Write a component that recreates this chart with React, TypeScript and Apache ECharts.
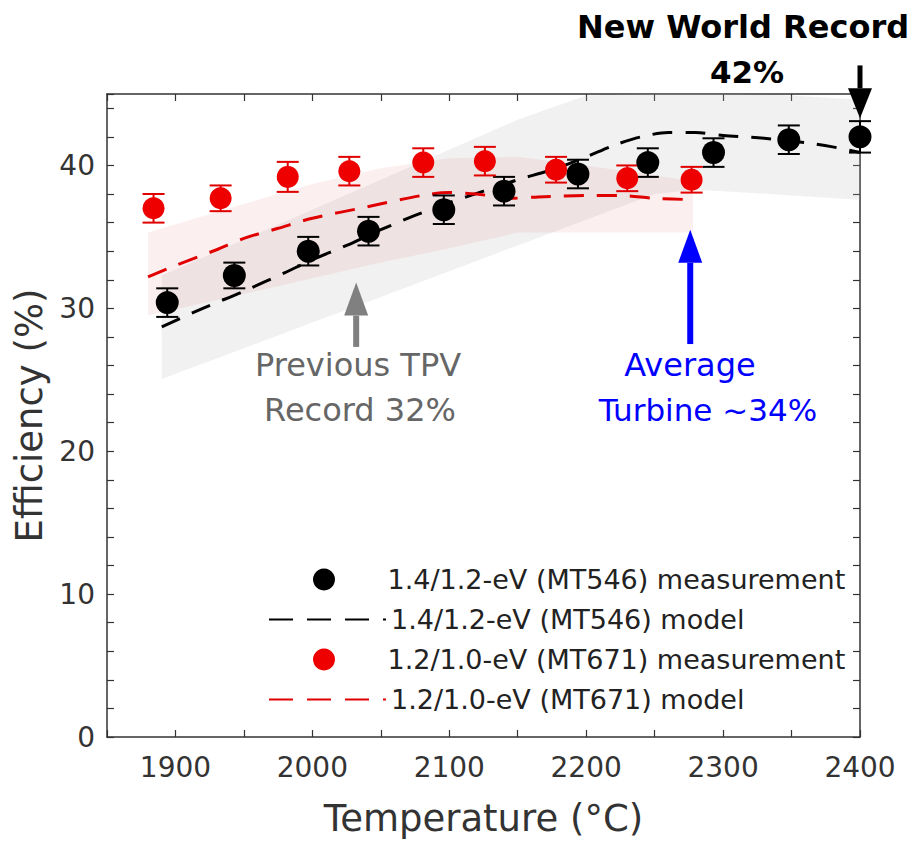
import React, { useEffect, useRef } from "react";
import * as echarts from "echarts";

const FONT = "'DejaVu Sans', 'Noto Sans', sans-serif";

// ---- measurements ----
const blackTemp = [1894, 1943, 1997, 2041, 2096, 2140, 2194, 2245, 2293, 2348, 2400];
const blackEff = [30.4, 32.3, 34.0, 35.4, 36.9, 38.2, 39.4, 40.2, 40.9, 41.8, 42.0];
const blackErr = [1.0, 0.9, 1.0, 1.0, 1.0, 1.0, 1.0, 1.0, 1.0, 1.0, 1.1];

const redTemp = [1884, 1933, 1982, 2027, 2081, 2126, 2178, 2230, 2277];
const redEff = [37.0, 37.7, 39.2, 39.6, 40.2, 40.3, 39.7, 39.1, 39.0];
const redErr = [1.0, 0.9, 1.05, 1.0, 1.0, 1.0, 0.9, 0.9, 0.9];

// ---- models ----
const blackModelT = [1890, 1920, 1950, 1980, 2000, 2025, 2050, 2075, 2100, 2125, 2150, 2175, 2200, 2220, 2240, 2260, 2280, 2300, 2330, 2360, 2380, 2400];
const blackModelE = [28.7, 30.0, 31.2, 32.5, 33.4, 34.4, 35.5, 36.5, 37.4, 38.2, 39.0, 39.7, 40.6, 41.4, 42.0, 42.3, 42.3, 42.1, 41.9, 41.6, 41.3, 40.9];

const redModelT = [1880, 1900, 1930, 1950, 1975, 2000, 2040, 2080, 2100, 2120, 2145, 2165, 2200, 2225, 2250, 2280];
const redModelE = [32.2, 33.0, 34.1, 34.9, 35.6, 36.3, 37.1, 37.9, 38.1, 38.0, 37.7, 37.8, 37.9, 37.9, 37.7, 37.6];

// ---- model uncertainty bands ----
const grayBandT = [1890, 1950, 2000, 2050, 2100, 2150, 2200, 2250, 2280, 2300, 2350, 2400];
const grayUpper = [32.3, 34.8, 36.9, 39.0, 41.1, 43.2, 44.9, 45, 45, 45, 44.9, 44.6];
const grayLower = [25.05, 27.2, 29.0, 30.8, 32.6, 34.4, 36.2, 38.0, 38.3, 38.2, 37.9, 37.6];

const redBandT = [1880, 1950, 2000, 2050, 2100, 2150, 2200, 2250, 2278];
const redUpper = [35.3, 37.3, 38.7, 39.8, 40.5, 40.6, 40.0, 39.3, 38.9];
const redLower = [29.5, 31.0, 32.1, 33.2, 34.2, 35.3, 35.3, 35.3, 35.3];

// ---- reference lines ----
const refLineEnd = [1850, 2385];
const turbineLevel = 35.5;
const prevTpvLevel = 31.9;

// ---- arrows ----
const arrowX = [2032, 2276, 2400];
const arrowFrom = [27.3, 27.5, 47.0];
const arrowTo = [31.8, 35.5, 43.3];
const arrowColors = ["#808080", "#0000ff", "#000000"];

const names = [
  "1.4/1.2-eV (MT546) measurement",
  "1.4/1.2-eV (MT546) model",
  "1.2/1.0-eV (MT671) measurement",
  "1.2/1.0-eV (MT671) model",
];

function bandSeries(name: string, T: number[], U: number[], L: number[], fill: string) {
  return {
    type: "custom",
    name,
    silent: true,
    z: 1,
    clip: true,
    data: T.map((t, i) => [t, L[i], U[i]]),
    encode: { x: 0, y: [1, 2] },
    renderItem: (params: any, api: any) => {
      if (params.dataIndex !== 0) return { type: "group", children: [] };
      const pts: number[][] = [];
      for (let i = 0; i < T.length; i++) pts.push(api.coord([T[i], U[i]]));
      for (let i = T.length - 1; i >= 0; i--) pts.push(api.coord([T[i], L[i]]));
      return { type: "polygon", shape: { points: pts }, style: { fill, stroke: "none" } };
    },
  };
}

function errSeries(name: string, T: number[], E: number[], R: number[], color: string) {
  return {
    type: "custom",
    name,
    silent: true,
    z: 4,
    data: T.map((t, i) => [t, E[i] - R[i], E[i] + R[i]]),
    encode: { x: 0, y: [1, 2] },
    renderItem: (params: any, api: any) => {
      const x = api.value(0);
      const p1 = api.coord([x, api.value(1)]);
      const p2 = api.coord([x, api.value(2)]);
      const hw = 11;
      const style = { stroke: color, lineWidth: 2 };
      return {
        type: "group",
        children: [
          { type: "line", shape: { x1: p1[0], y1: p1[1], x2: p2[0], y2: p2[1] }, style },
          { type: "line", shape: { x1: p1[0] - hw, y1: p1[1], x2: p1[0] + hw, y2: p1[1] }, style },
          { type: "line", shape: { x1: p2[0] - hw, y1: p2[1], x2: p2[0] + hw, y2: p2[1] }, style },
        ],
      };
    },
  };
}

export default function App() {
  const ref = useRef<HTMLDivElement>(null);
  useEffect(() => {
    const chart = echarts.init(ref.current!, null, { renderer: "svg" });
    const axisCol = "#333";
    const baseX = {
      type: "value",
      min: 1850,
      max: 2400,
      interval: 50,
      axisLine: { show: true, onZero: false, lineStyle: { color: axisCol, width: 1.5 } },
      axisTick: { show: true, inside: true, length: 7, lineStyle: { color: axisCol, width: 1.2 } },
      splitLine: { show: false },
    };
    const baseY = {
      type: "value",
      min: 0,
      max: 45,
      interval: 2,
      axisLine: { show: true, onZero: false, lineStyle: { color: axisCol, width: 1.5 } },
      axisTick: { show: true, inside: true, length: 7, lineStyle: { color: axisCol, width: 1.2 } },
      splitLine: { show: false },
    };
    const isModel = (i: number) => i % 2 === 1;
    const option: any = {
      animation: false,
      backgroundColor: "#fff",
      grid: { left: 107, right: 56, top: 94, bottom: 103 },
      xAxis: [
        {
          ...baseX,
          position: "bottom",
          axisLabel: {
            formatter: (v: number) => (v % 100 === 0 ? String(v) : ""),
            fontSize: 28,
            color: "#333",
            margin: 16,
            fontFamily: FONT,
          },
          name: "Temperature (°C)",
          nameLocation: "middle",
          nameGap: 63,
          nameTextStyle: { fontSize: 37, color: "#333", fontFamily: FONT },
        },
        { ...baseX, position: "top", axisLabel: { show: false } },
      ],
      yAxis: [
        {
          ...baseY,
          position: "left",
          axisLabel: {
            formatter: (v: number) => (v % 10 === 0 ? String(v) : ""),
            fontSize: 28,
            color: "#333",
            margin: 12,
            fontFamily: FONT,
          },
          name: "Efficiency (%)",
          nameLocation: "middle",
          nameGap: 57,
          nameTextStyle: { fontSize: 37, color: "#333", fontFamily: FONT },
        },
        { ...baseY, position: "right", axisLabel: { show: false } },
      ],
      legend: names.map((n, i) => ({
        data: [n],
        left: isModel(i) ? 268 : 313,
        top: 566 + i * 40,
        padding: 0,
        itemWidth: 117,
        itemHeight: 22,
        selectedMode: false,
        textStyle: { fontSize: 27, color: "#222", fontFamily: FONT },
        lineStyle: { width: 2, type: [24, 14] },
        itemStyle: isModel(i)
          ? { color: "rgba(0,0,0,0)", borderColor: "rgba(0,0,0,0)", borderWidth: 0, opacity: 0 }
          : {},
      })),
      series: [
        bandSeries("gray band", grayBandT, grayUpper, grayLower, "rgba(185,185,185,0.2)"),
        bandSeries("red band", redBandT, redUpper, redLower, "rgba(230,110,110,0.11)"),
        {
          type: "line",
          name: names[1],
          data: blackModelT.map((t, i) => [t, blackModelE[i]]),
          smooth: 0.3,
          symbol: "none",
          showSymbol: false,
          z: 3,
          color: "#000",
          lineStyle: { color: "#000", width: 3, type: [20, 13] },
        },
        {
          type: "line",
          name: names[3],
          data: redModelT.map((t, i) => [t, redModelE[i]]),
          smooth: 0.3,
          symbol: "none",
          showSymbol: false,
          z: 3,
          color: "#e00000",
          lineStyle: { color: "#e00000", width: 3, type: [20, 13] },
        },
        errSeries("black err", blackTemp, blackEff, blackErr, "#000"),
        errSeries("red err", redTemp, redEff, redErr, "#e00000"),
        {
          type: "scatter",
          name: names[0],
          data: blackTemp.map((t, i) => [t, blackEff[i]]),
          symbol: "circle",
          symbolSize: 23,
          z: 5,
          itemStyle: { color: "#000", opacity: 1 },
        },
        {
          type: "scatter",
          name: names[2],
          data: redTemp.map((t, i) => [t, redEff[i]]),
          symbol: "circle",
          symbolSize: 22,
          z: 5,
          itemStyle: { color: "#ee0000", opacity: 1 },
        },
        {
          type: "line",
          name: "Average turbine",
          data: refLineEnd.map((t) => [t, turbineLevel]),
          symbol: "none",
          z: 6,
          lineStyle: {
            color: "#0000ff",
            width: 5,
            type: [20, 17],
            shadowBlur: 3,
            shadowColor: "rgba(0,0,0,0.35)",
            shadowOffsetX: 1,
            shadowOffsetY: 2,
          },
        },
        {
          type: "line",
          name: "Previous TPV record",
          data: refLineEnd.map((t) => [t, prevTpvLevel]),
          symbol: "none",
          z: 6,
          lineStyle: {
            color: "#858585",
            width: 5,
            type: [20, 17],
            shadowBlur: 3,
            shadowColor: "rgba(0,0,0,0.35)",
            shadowOffsetX: 1,
            shadowOffsetY: 2,
          },
        },
        {
          type: "custom",
          name: "arrows",
          silent: true,
          clip: false,
          z: 7,
          data: arrowX.map((x, i) => [x, arrowFrom[i], arrowTo[i]]),
          encode: { x: 0, y: [1, 2] },
          renderItem: (params: any, api: any) => {
            const i = params.dataIndex;
            const x = api.value(0);
            const b = api.coord([x, api.value(1)]);
            const t = api.coord([x, api.value(2)]);
            const dir = t[1] > b[1] ? 1 : -1;
            const headLen = i === 2 ? 30 : 33;
            const hw = 12;
            const col = arrowColors[i];
            const neck = t[1] - dir * headLen;
            return {
              type: "group",
              children: [
                {
                  type: "line",
                  shape: { x1: b[0], y1: b[1], x2: b[0], y2: neck },
                  style: { stroke: col, lineWidth: i === 2 ? 5 : 6 },
                },
                {
                  type: "polygon",
                  shape: { points: [[t[0], t[1]], [t[0] - hw, neck], [t[0] + hw, neck]] },
                  style: { fill: col },
                },
              ],
            };
          },
        },
      ],
      graphic: [
        { type: "text", x: 743, y: 27, style: { text: "New World Record", fill: "#000", font: `bold 32px ${FONT}`, align: "center", verticalAlign: "middle" } },
        { type: "text", x: 747, y: 72, style: { text: "42%", fill: "#000", font: `bold 31px ${FONT}`, align: "center", verticalAlign: "middle" } },
        { type: "text", x: 358, y: 365, style: { text: "Previous TPV", fill: "#666", font: `32px ${FONT}`, align: "center", verticalAlign: "middle" } },
        { type: "text", x: 360, y: 410, style: { text: "Record 32%", fill: "#666", font: `32px ${FONT}`, align: "center", verticalAlign: "middle" } },
        { type: "text", x: 690, y: 365, style: { text: "Average", fill: "#0000ff", font: `32px ${FONT}`, align: "center", verticalAlign: "middle" } },
        { type: "text", x: 708, y: 410, style: { text: "Turbine ~34%", fill: "#0000ff", font: `31px ${FONT}`, align: "center", verticalAlign: "middle" } },
      ],
    };
    chart.setOption(option);
    return () => chart.dispose();
  }, []);
  return <div ref={ref} style={{ position: "fixed", left: 0, top: 0, width: 916, height: 842 }} />;
}
